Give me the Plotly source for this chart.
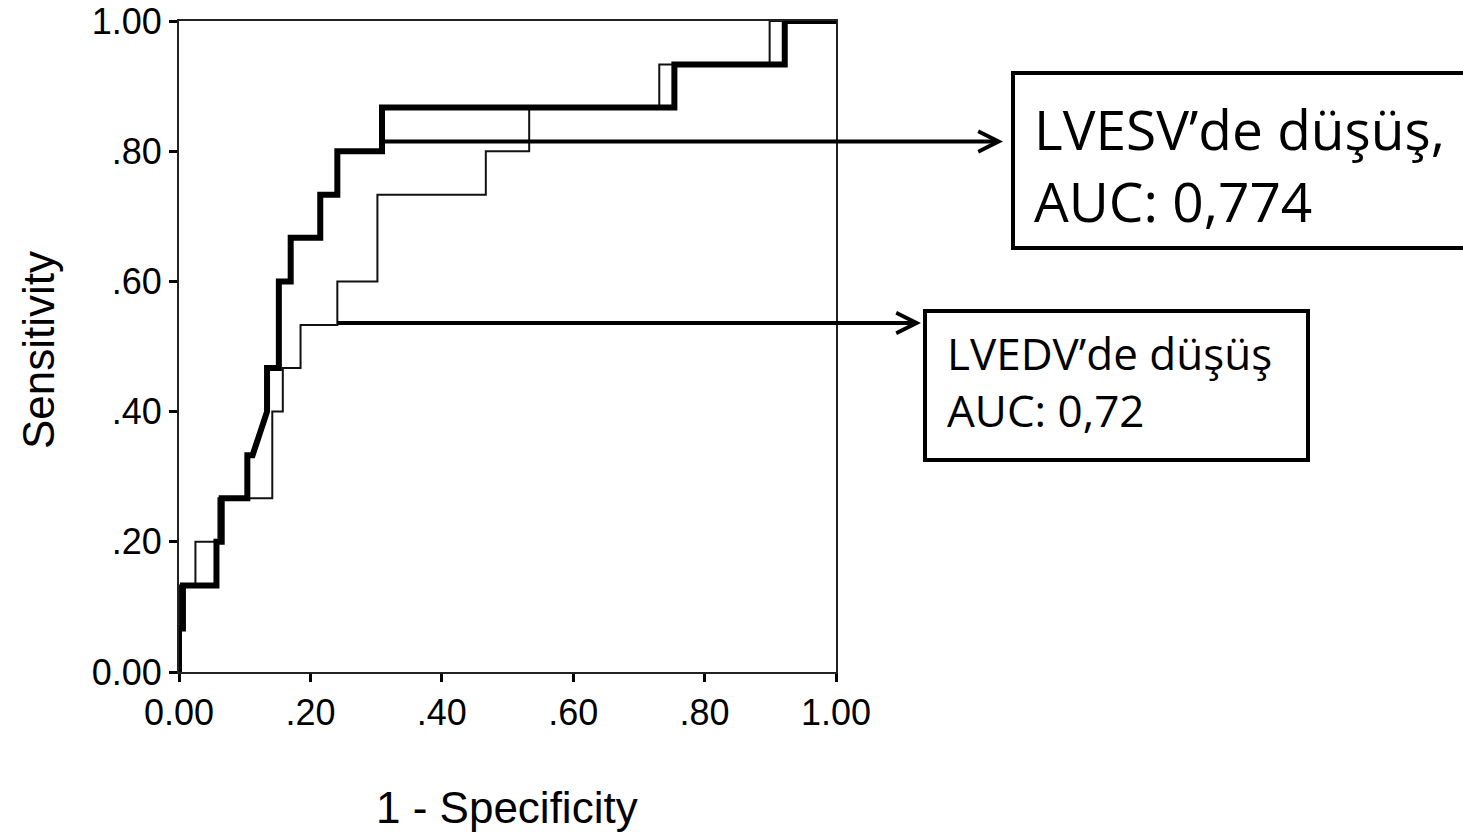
import plotly.graph_objects as go

# ---- data ----
lvesv_fpr = [0, 0, 0.006, 0.006, 0.057, 0.057, 0.065, 0.065, 0.104, 0.104, 0.112, 0.134, 0.134,
             0.152, 0.152, 0.170, 0.170, 0.215, 0.215, 0.241, 0.241, 0.309, 0.309, 0.754, 0.754,
             0.922, 0.922, 1.0]
lvesv_tpr = [0, 0.067, 0.067, 0.133, 0.133, 0.2, 0.2, 0.267, 0.267, 0.333, 0.333, 0.4, 0.467,
             0.467, 0.6, 0.6, 0.667, 0.667, 0.733, 0.733, 0.8, 0.8, 0.867, 0.867, 0.933,
             0.933, 1.0, 1.0]

lvedv_fpr = [0, 0, 0.025, 0.025, 0.06, 0.06, 0.142, 0.142, 0.158, 0.158, 0.185, 0.185, 0.241,
             0.241, 0.302, 0.302, 0.467, 0.467, 0.533, 0.533, 0.731, 0.731, 0.899, 0.899, 1.0]
lvedv_tpr = [0, 0.133, 0.133, 0.2, 0.2, 0.267, 0.267, 0.4, 0.4, 0.467, 0.467, 0.533, 0.533,
             0.6, 0.6, 0.733, 0.733, 0.8, 0.8, 0.867, 0.867, 0.933, 0.933, 1.0, 1.0]

tick_vals = [0, 0.2, 0.4, 0.6, 0.8, 1.0]
tick_text = ["0.00", ".20", ".40", ".60", ".80", "1.00"]

label_lvesv = ["LVESV\u2019de düşüş,", "AUC: 0,774"]
label_lvedv = ["LVEDV\u2019de düşüş", "AUC: 0,72"]

x_title = "1 - Specificity"
y_title = "Sensitivity"

# ---- layout geometry ----
W, H = 1463, 837
L, R, T, B = 179, 836, 21, 672


def px_x(p):
    return (p - L) / (R - L)


def px_y(p):
    return (B - p) / (B - T)


fig = go.Figure()
fig.add_trace(go.Scatter(x=lvedv_fpr, y=lvedv_tpr, mode="lines",
                         line=dict(color="#111111", width=2), cliponaxis=False,
                         showlegend=False))
fig.add_trace(go.Scatter(x=lvesv_fpr, y=lvesv_tpr, mode="lines",
                         line=dict(color="black", width=6), cliponaxis=False,
                         showlegend=False))

tick_font = dict(family="Liberation Sans, Arial, sans-serif", size=36, color="black")
axis_common = dict(range=[0, 1], tickvals=tick_vals, ticktext=tick_text, ticks="outside",
                   ticklen=8, tickwidth=3, tickcolor="black", showline=True, mirror=True,
                   linecolor="#222222", linewidth=2, showgrid=False, zeroline=False,
                   tickfont=tick_font, fixedrange=True, automargin=False)
fig.update_xaxes(**axis_common)
fig.update_yaxes(**axis_common)

annotations = []
title_font = dict(family="Liberation Sans, Arial, sans-serif", size=44, color="black")
annotations.append(dict(text=x_title, xref="paper", yref="paper", x=px_x(507), y=px_y(808),
                        xanchor="center", yanchor="middle", showarrow=False, font=title_font))
annotations.append(dict(text=y_title, xref="paper", yref="paper", x=px_x(38), y=px_y(350),
                        xanchor="center", yanchor="middle", showarrow=False, textangle=-90,
                        font=title_font))

box_font1 = dict(family="Open Sans, sans-serif", size=55, color="black")
box_font2 = dict(family="Open Sans, sans-serif", size=44, color="black")
for txt, yy in zip(label_lvesv, [129, 200]):
    annotations.append(dict(text=txt, xref="paper", yref="paper", x=px_x(1032), y=px_y(yy),
                            xanchor="left", yanchor="middle", showarrow=False, font=box_font1))
annotations.append(dict(text="<br>".join(label_lvedv), xref="paper", yref="paper",
                        x=px_x(945), y=px_y(381), xanchor="left", yanchor="middle",
                        align="left", showarrow=False, font=box_font2))

# arrows
for (x0, y0, x1, y1) in [(383, 141.5, 1003, 141.5), (336, 323, 921, 323)]:
    annotations.append(dict(text="", xref="x", yref="y", axref="x", ayref="y",
                            x=px_x(x1), y=px_y(y1), ax=px_x(x0), ay=px_y(y0),
                            showarrow=True, arrowhead=5, arrowsize=1, arrowwidth=4,
                            arrowcolor="black"))

shapes = [
    dict(type="rect", xref="paper", yref="paper", x0=px_x(1013), x1=px_x(1475),
         y0=px_y(248), y1=px_y(73), line=dict(color="black", width=4)),
    dict(type="rect", xref="paper", yref="paper", x0=px_x(925), x1=px_x(1308),
         y0=px_y(460), y1=px_y(311), line=dict(color="black", width=4)),
]

fig.update_layout(width=W, height=H, margin=dict(l=L, r=W - R, t=T, b=H - B, autoexpand=False),
                  paper_bgcolor="white", plot_bgcolor="white",
                  annotations=annotations, shapes=shapes)

fig.write_html("out.html", config={"displayModeBar": False})
